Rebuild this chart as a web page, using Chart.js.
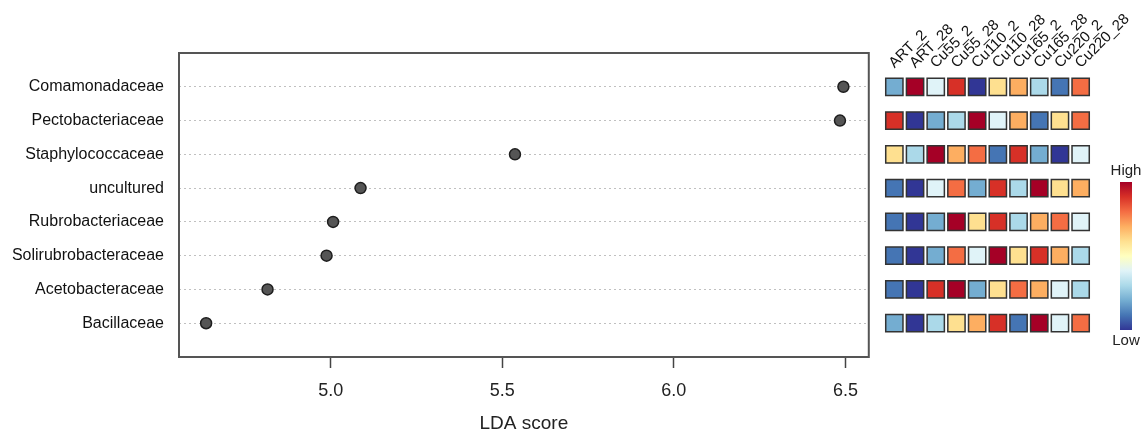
<!DOCTYPE html>
<html>
<head>
<meta charset="utf-8">
<script src="https://cdn.jsdelivr.net/npm/chart.js@4.4.0/dist/chart.umd.min.js"></script>
<style>
html,body{margin:0;padding:0;background:#ffffff;}
#wrap{position:relative;width:1145px;height:432px;overflow:hidden;background:#fff;}
#c1{position:absolute;left:0;top:0;}
#c2{position:absolute;left:870px;top:0;}
</style>
</head>
<body>
<div id="wrap">
<canvas id="c1" width="870" height="432"></canvas>
<canvas id="c2" width="275" height="432"></canvas>
</div>
<script>
// ---------- data ----------
const families = ['Comamonadaceae','Pectobacteriaceae','Staphylococcaceae','uncultured',
                  'Rubrobacteriaceae','Solirubrobacteraceae','Acetobacteraceae','Bacillaceae'];
const ldaScores = [6.494, 6.484, 5.537, 5.087, 5.007, 4.988, 4.816, 4.637];
const xTickValues = [5.0, 5.5, 6.0, 6.5];
const samples = ['ART_2','ART_28','Cu55_2','Cu55_28','Cu110_2','Cu110_28','Cu165_2','Cu165_28','Cu220_2','Cu220_28'];
// relative abundance rank (1 = low, 10 = high) per family (rows) and sample (columns)
const rankComamonadaceae       = [3,10,5,9,1,6,7,4,2,8];
const rankPectobacteriaceae    = [9,1,3,4,10,5,7,2,6,8];
const rankStaphylococcaceae    = [6,4,10,7,8,2,9,3,1,5];
const rankUncultured           = [2,1,5,8,3,9,4,10,6,7];
const rankRubrobacteriaceae    = [2,1,3,10,6,9,4,7,8,5];
const rankSolirubrobacteraceae = [2,1,3,8,5,10,6,9,7,4];
const rankAcetobacteraceae     = [2,1,9,10,3,6,8,7,5,4];
const rankBacillaceae          = [3,1,4,6,7,9,2,10,5,8];
const heatRanks = [rankComamonadaceae, rankPectobacteriaceae, rankStaphylococcaceae, rankUncultured,
                   rankRubrobacteriaceae, rankSolirubrobacteraceae, rankAcetobacteraceae, rankBacillaceae];
const legendLabels = ['High','Low'];

// ---------- style ----------
const palette = ['#313695','#4575b4','#74add1','#abd9e9','#e0f3f8','#fee090','#fdae61','#f46d43','#d73027','#a50026'];
const FONT = "'Liberation Sans', Arial, Helvetica, sans-serif";

// ---------- main dot chart ----------
const boxPlugin = {
  id: 'box',
  afterDatasetsDraw(chart) {
    const a = chart.chartArea, ctx = chart.ctx;
    ctx.save();
    ctx.strokeStyle = '#555';
    ctx.lineWidth = 2;
    ctx.strokeRect(a.left, a.top, a.right - a.left, a.bottom - a.top);
    ctx.restore();
  }
};

new Chart(document.getElementById('c1'), {
  type: 'scatter',
  data: {
    datasets: [{
      data: families.map((f, i) => ({x: ldaScores[i], y: i + 1})),
      pointRadius: 5.5,
      pointHoverRadius: 5.5,
      backgroundColor: '#555555',
      borderColor: '#1e1e1e',
      borderWidth: 1.5
    }]
  },
  options: {
    responsive: false,
    animation: false,
    events: [],
    layout: {autoPadding: false, padding: {left: 0, right: 1, top: 53, bottom: 0}},
    plugins: {legend: {display: false}, tooltip: {enabled: false}},
    scales: {
      x: {
        type: 'linear',
        position: 'bottom',
        min: 4.558,
        max: 6.568,
        afterBuildTicks: s => { s.ticks = xTickValues.map(v => ({value: v})); },
        afterFit: s => { s.height = 75; },
        ticks: {
          callback: v => Number(v).toFixed(1),
          font: {family: FONT, size: 18},
          color: '#222',
          padding: 12,
          maxRotation: 0,
          autoSkip: false
        },
        grid: {display: true, drawOnChartArea: false, drawTicks: true, tickLength: 11,
               tickColor: '#444', tickWidth: 1.5},
        border: {display: false},
        title: {display: true, text: 'LDA score', font: {family: FONT, size: 19, lineHeight: 1},
                color: '#222', padding: {top: 0, bottom: -1}}
      },
      y: {
        type: 'linear',
        reverse: true,
        min: 0,
        max: 9,
        afterBuildTicks: s => { s.ticks = families.map((f, i) => ({value: i + 1})); },
        afterFit: s => { s.width = 179; },
        ticks: {
          callback: v => families[v - 1],
          font: {family: FONT, size: 16},
          color: '#111',
          padding: 15,
          autoSkip: false
        },
        grid: {color: '#c0c0c0', lineWidth: 1, drawTicks: false},
        border: {display: false, dash: [2, 3]}
      }
    }
  },
  plugins: [boxPlugin]
});

// ---------- heatmap ----------
const heatPoints = [];
heatRanks.forEach((row, r) => row.forEach((v, c) => heatPoints.push({x: c, y: r + 1, v: v})));

const colorbarPlugin = {
  id: 'colorbar',
  afterDraw(chart) {
    const ctx = chart.ctx;
    const x0 = 250, w = 12, yTop = 182, yBot = 330;
    ctx.save();
    const g = ctx.createLinearGradient(0, yTop, 0, yBot);
    const stops = ['#a50026','#d73027','#f46d43','#fdae61','#fee090','#ffffbf','#e0f3f8','#abd9e9','#74add1','#4575b4','#313695'];
    stops.forEach((c, i) => g.addColorStop(i / (stops.length - 1), c));
    ctx.fillStyle = g;
    ctx.fillRect(x0, yTop, w, yBot - yTop);
    ctx.fillStyle = '#222';
    ctx.font = '15px ' + FONT;
    ctx.textAlign = 'center';
    ctx.textBaseline = 'middle';
    ctx.fillText(legendLabels[0], x0 + w / 2, 171);
    ctx.fillText(legendLabels[1], x0 + w / 2, 341);
    ctx.restore();
  }
};

new Chart(document.getElementById('c2'), {
  type: 'scatter',
  data: {
    datasets: [{
      data: heatPoints,
      pointStyle: 'rect',
      pointRadius: 12.2,
      pointHoverRadius: 12.2,
      backgroundColor: ctx => palette[(ctx.raw ? ctx.raw.v : 1) - 1],
      borderColor: '#333333',
      borderWidth: 1.5
    }]
  },
  options: {
    responsive: false,
    animation: false,
    events: [],
    layout: {autoPadding: false, padding: {left: 14, right: 54, top: 0, bottom: 75}},
    plugins: {legend: {display: false}, tooltip: {enabled: false}},
    scales: {
      x: {
        type: 'linear',
        position: 'top',
        min: -0.5,
        max: 9.5,
        afterBuildTicks: s => { s.ticks = samples.map((n, i) => ({value: i})); },
        afterFit: s => { s.height = 76; },
        ticks: {
          callback: v => samples[v],
          font: {family: FONT, size: 15},
          color: '#111',
          padding: -4,
          labelOffset: 10,
          minRotation: 45,
          maxRotation: 45,
          autoSkip: false
        },
        grid: {display: false},
        border: {display: false}
      },
      y: {
        type: 'linear',
        display: false,
        reverse: true,
        min: 0.681,
        max: 9
      }
    }
  },
  plugins: [colorbarPlugin]
});
</script>
</body>
</html>
